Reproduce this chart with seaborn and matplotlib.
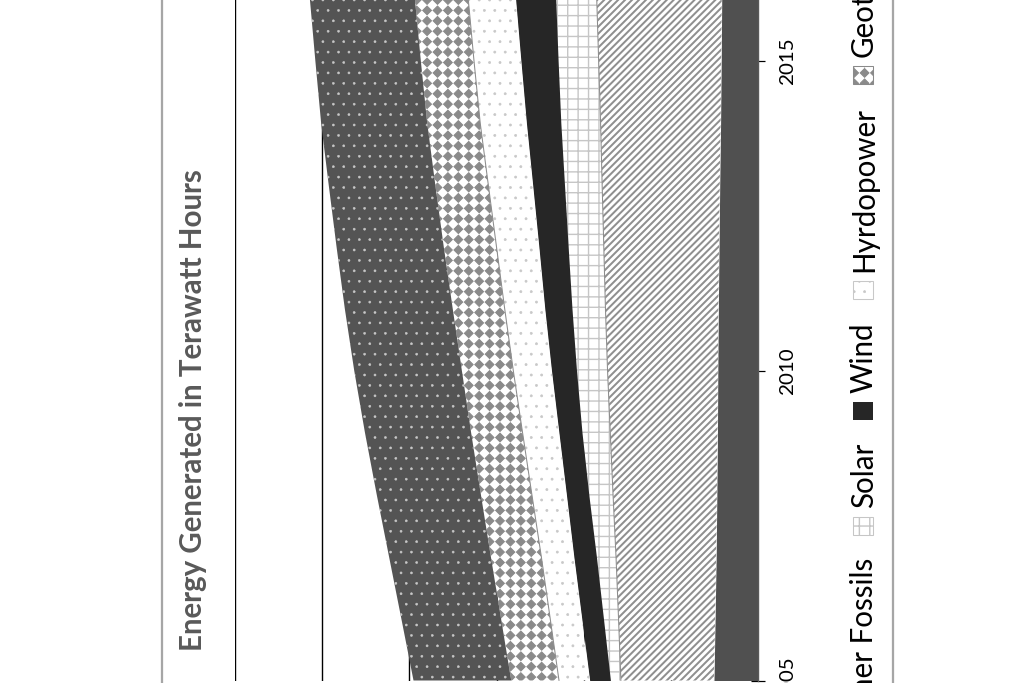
import numpy as np
import pandas as pd
import matplotlib
matplotlib.use("Agg")
import matplotlib.pyplot as plt
import matplotlib.patches as mpatches
import matplotlib.hatch as mhatch
from matplotlib.path import Path
import seaborn as sns

# ---------------- data (TWh) ----------------
years = [2005, 2006, 2007, 2008, 2009, 2010, 2011, 2012, 2013, 2014, 2015, 2016]
nuclear = [50.5, 49.2, 48.0, 47.2, 46.5, 46.1, 45.5, 44.7, 43.9, 42.9, 42.2, 41.6]
other_fossils = [106.8, 110.8, 114.9, 119.1, 123.0, 126.5, 129.5, 132.2, 134.9, 137.7, 140.6, 143.4]
solar = [12.0, 17.3, 22.5, 27.8, 32.4, 35.6, 38.4, 40.9, 43.2, 45.6, 46.5, 47.1]
wind = [23.8, 24.9, 25.9, 25.7, 26.5, 28.7, 31.2, 33.6, 36.5, 39.5, 42.7, 46.0]
hydropower = [35.2, 36.2, 37.3, 39.6, 41.7, 43.8, 46.0, 48.6, 50.9, 53.0, 53.8, 54.3]
geothermal = [54.8, 56.4, 57.9, 58.5, 59.0, 59.0, 59.6, 60.5, 60.8, 60.8, 61.0, 61.2]
biomass = [112.1, 114.4, 116.8, 119.5, 121.8, 123.5, 123.8, 123.0, 122.3, 121.7, 121.0, 120.5]
series_names = ["Nuclear", "Other Fossils", "Solar", "Wind", "Hyrdopower", "Geothermal", "Biomass"]
tick_years = [2005, 2010, 2015]
value_grid = [0, 100, 200, 300, 400, 500, 600]
title = "Energy Generated in Terawatt Hours"

df = pd.DataFrame({"Year": years, "Nuclear": nuclear, "Other Fossils": other_fossils,
                   "Solar": solar, "Wind": wind, "Hyrdopower": hydropower,
                   "Geothermal": geothermal, "Biomass": biomass})


# ---------------- custom "solid diamond" hatch (square grid of filled diamonds) ----------------
class DiamondGrid(mhatch.HatchPatternBase):
    frac = 0.84

    def __init__(self, hatch, density):
        self.num_rows = hatch.count("O") * density
        n = self.num_rows
        self.num_vertices = 5 * (n + 1) * (n + 1) if n else 0

    def set_vertices_and_codes(self, vertices, codes):
        n = self.num_rows
        r = 0.5 / n * self.frac
        diamond = np.array([[0, -r], [r, 0], [0, r], [-r, 0], [0, -r]])
        k = 0
        for i in range(n + 1):
            for j in range(n + 1):
                vertices[k:k + 5] = diamond + np.array([j / n, i / n])
                codes[k:k + 5] = [Path.MOVETO, Path.LINETO, Path.LINETO, Path.LINETO, Path.CLOSEPOLY]
                k += 5


mhatch._hatch_types = [DiamondGrid if t is mhatch.LargeCircles else t for t in mhatch._hatch_types]

# ---------------- styles ----------------
styles = [
    dict(fc="#505050", ec="#505050", hatch=None, hlw=1.0),
    dict(fc="white", ec="#8f8f8f", hatch="//////", hlw=1.15),
    dict(fc="white", ec="#c6c6c6", hatch="++", hlw=0.8),
    dict(fc="#262626", ec="#262626", hatch=None, hlw=1.0),
    dict(fc="white", ec="#c8c8c8", hatch="..", hlw=0.4),
    dict(fc="white", ec="#8a8a8a", hatch="OO", hlw=0.6),
    dict(fc="#545454", ec="#c8c8c8", hatch="..", hlw=0.3),
]

sns.set_theme(style="white")
plt.rcParams["font.family"] = ["Lato", "DejaVu Sans"]


def apply_hatch_lw(artist, lw):
    if hasattr(artist, "set_hatch_linewidth"):
        artist.set_hatch_linewidth(lw)


W, H, DPI = 1029, 683, 125
fig = plt.figure(figsize=(W / DPI, H / DPI), dpi=DPI)
fig.patch.set_facecolor("white")

# chart-area border (gray), extends beyond the cropped canvas
border = mpatches.Rectangle((162 / W, -0.2), (893 - 162) / W, 1.4, transform=fig.transFigure,
                            facecolor="none", edgecolor="#a6a6a6", linewidth=1.3)
fig.add_artist(border)

ax = fig.add_axes([235 / W, 2.5 / H, 523 / W, 681.4 / H])
ax.set_facecolor("none")

vals = df[series_names].to_numpy()
cum = np.cumsum(vals, axis=1)
prev = np.zeros(len(years))
for i, name in enumerate(series_names):
    st = styles[i]
    plt.rcParams["hatch.linewidth"] = st["hlw"]
    coll = ax.fill_betweenx(df["Year"], prev, cum[:, i], facecolor=st["fc"], edgecolor=st["ec"],
                            hatch=st["hatch"], linewidth=0, zorder=2)
    apply_hatch_lw(coll, st["hlw"])
    prev = cum[:, i]

# thin outlines of patterned series
ax.plot(cum[:, 1], df["Year"], color="#8c8c8c", lw=0.6, zorder=3)
ax.plot(cum[:, 4], df["Year"], color="#8c8c8c", lw=0.6, zorder=3)

ax.set_xlim(600, 0)
ax.set_ylim(2005, 2016)
ax.set_xticks(value_grid)
ax.set_xticklabels([])
ax.tick_params(axis="x", length=0)
ax.grid(axis="x", color="black", linewidth=0.8)
ax.grid(axis="y", visible=False)
ax.set_axisbelow(True)

for s in ["top", "left", "bottom"]:
    ax.spines[s].set_visible(False)
ax.spines["right"].set_color("#595959")
ax.spines["right"].set_linewidth(0.8)
ax.spines["right"].set_zorder(4)

ax.yaxis.tick_right()
ax.set_yticks(tick_years)
ax.set_yticklabels([str(y) for y in tick_years])
ax.tick_params(axis="y", direction="inout", length=8, width=0.7, color="black",
               pad=8.0, labelsize=11.8, labelcolor="black", right=True, left=False)
for lab in ax.get_yticklabels():
    lab.set_rotation(90)
    lab.set_va("center")
    lab.set_ha("left")

# title (rotated with the chart)
fig.text(193 / W, (683 - 410) / H, title, rotation=90, ha="center", va="center",
         fontsize=17, fontweight="bold", color="#595959")

# legend, laid out along the vertical direction
LEG_FS = 17
text_x = 873
texts = [fig.text(text_x / W, 0, n, rotation=90, rotation_mode="anchor", ha="left",
                  va="baseline", fontsize=LEG_FS, color="black") for n in series_names]
fig.canvas.draw()
r = fig.canvas.get_renderer()
lengths = [t.get_window_extent(r).height for t in texts]
SYM, GAP_T, GAP_I = 18, 9, 23
n = len(series_names)
sym_bottom = [0.0] * n
sym_bottom[2] = 683 - 535
for i in range(3, n):
    sym_bottom[i] = sym_bottom[i - 1] + SYM + GAP_T + lengths[i - 1] + GAP_I
for i in range(1, -1, -1):
    text_end = sym_bottom[i + 1] - GAP_I
    sym_bottom[i] = text_end - lengths[i] - GAP_T - SYM
for i in range(n):
    st = styles[i]
    plt.rcParams["hatch.linewidth"] = st["hlw"]
    rect = mpatches.Rectangle((853 / W, sym_bottom[i] / H), 20 / W, SYM / H,
                              transform=fig.transFigure, facecolor=st["fc"],
                              edgecolor=st["ec"], hatch=st["hatch"],
                              linewidth=0.6 if st["fc"] == "white" else 0)
    apply_hatch_lw(rect, st["hlw"])
    fig.add_artist(rect)
    texts[i].set_position((text_x / W, (sym_bottom[i] + SYM + GAP_T) / H))

fig.savefig("out.png", dpi=DPI)
